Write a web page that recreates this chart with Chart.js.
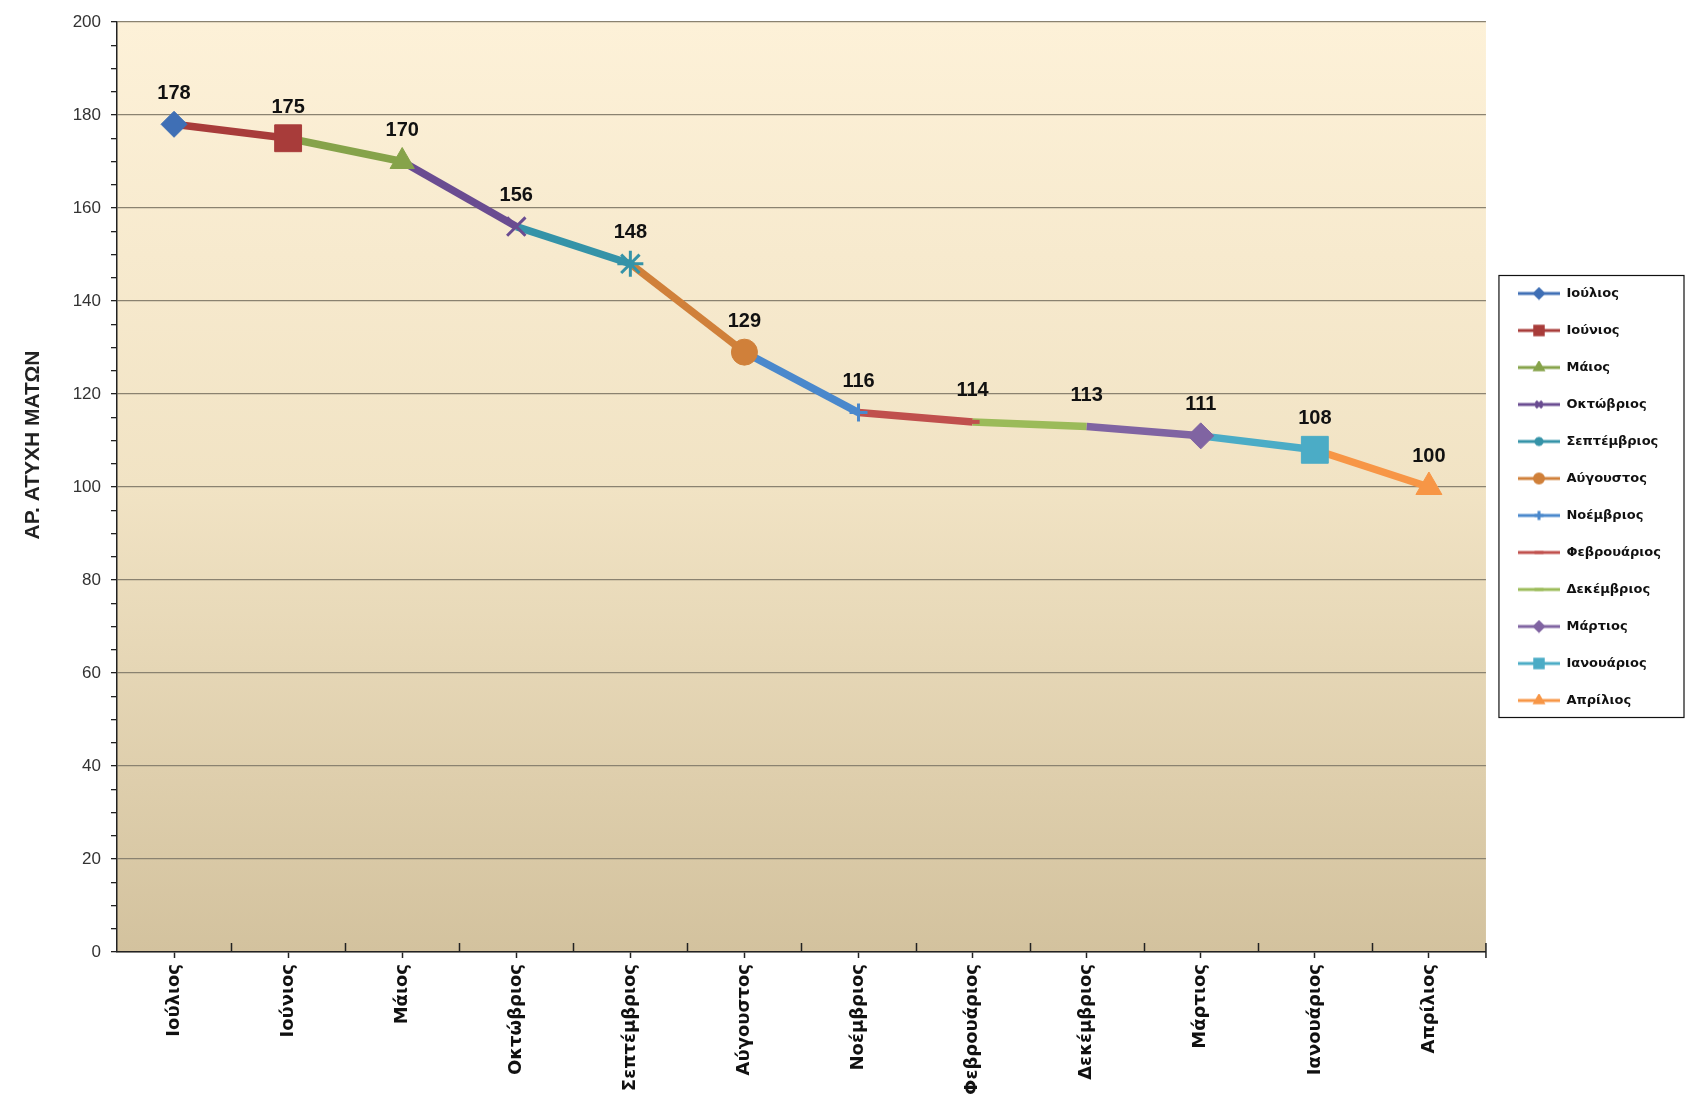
<!DOCTYPE html>
<html>
<head>
<meta charset="utf-8">
<script src="https://cdn.jsdelivr.net/npm/chart.js@4.4.1/dist/chart.umd.min.js"></script>
<style>
  html, body { margin: 0; padding: 0; background: #fff; }
  #wrap { width: 1686px; height: 1105px; }
</style>
</head>
<body>
<div id="wrap"><canvas id="accChart" width="1686" height="1105"></canvas></div>
<script>
// data
const months = ['Ιούλιος', 'Ιούνιος', 'Μάιος', 'Οκτώβριος', 'Σεπτέμβριος', 'Αύγουστος',
    'Νοέμβριος', 'Φεβρουάριος', 'Δεκέμβριος', 'Μάρτιος', 'Ιανουάριος', 'Απρίλιος'];
const accidents = [178, 175, 170, 156, 148, 129, 116, 114, 113, 111, 108, 100];
const yMin = 0;
const yMax = 200;
const yMajorStep = 20;
const yMinorStep = 5;

// one colour / marker per month (Excel series look)
const seriesColors = ['#3f6fb5', '#a83c3a', '#86a34a', '#6a4c91', '#3593a8', '#d0803a',
    '#4a88cc', '#c0504d', '#9bbb59', '#8064a2', '#4bacc6', '#f79646'];
const markerStyles = ['rectRot', 'rect', 'triangle', 'crossRot', 'star', 'circle',
    'cross', 'line', 'line', 'rectRot', 'rect', 'triangle'];
const markerSizes = [13, 19, 14, 13, 13, 13, 9, 7, 0, 13, 19, 15];
const markerBorders = [1, 1, 1, 3, 3, 1, 3, 4, 4, 1, 1, 1];

const labelFont = '"DejaVu Sans", Verdana, sans-serif';
const numFont = '"Liberation Sans", Arial, sans-serif';
const textColor = '#111';

// little line+marker picture for the legend entries
function legendSwatch(i) {
    const c = document.createElement('canvas');
    c.width = 50;
    c.height = 14;
    const g = c.getContext('2d');
    g.strokeStyle = seriesColors[i];
    g.lineWidth = 3;
    g.beginPath();
    g.moveTo(8, 7);
    g.lineTo(50, 7);
    g.stroke();
    g.fillStyle = seriesColors[i];
    g.strokeStyle = seriesColors[i];
    Chart.helpers.drawPoint(g, {
        pointStyle: markerStyles[i],
        radius: markerStyles[i] === 'rect' ? 6 : 4.5,
        borderWidth: markerBorders[i] > 1 ? 2 : 1,
        rotation: 0
    }, 29, 7);
    return c;
}

const plotBackground = {
    id: 'plotBackground',
    beforeDraw(chart) {
        const {ctx, chartArea: a} = chart;
        ctx.save();
        ctx.fillStyle = '#ffffff';
        ctx.fillRect(0, 0, chart.width, chart.height);
        const grad = ctx.createLinearGradient(0, a.top, 0, a.bottom);
        grad.addColorStop(0, '#fdf1d8');
        grad.addColorStop(0.5, '#f1e3c4');
        grad.addColorStop(1, '#d3c29e');
        ctx.fillStyle = grad;
        ctx.fillRect(a.left, a.top, a.right - a.left, a.bottom - a.top);
        ctx.restore();
    }
};

// tick marks between categories, pointing into the plot
const innerTicks = {
    id: 'innerTicks',
    afterDraw(chart) {
        const {ctx, chartArea: a} = chart;
        const xs = chart.scales.x;
        ctx.save();
        ctx.strokeStyle = '#222';
        ctx.lineWidth = 1.5;
        ctx.beginPath();
        for (let i = 1; i < months.length; i++) {
            const px = Math.round((xs.getPixelForValue(i - 1) + xs.getPixelForValue(i)) / 2) + 0.5;
            ctx.moveTo(px, a.bottom);
            ctx.lineTo(px, a.bottom - 9);
        }
        ctx.moveTo(a.right, a.bottom - 9);
        ctx.lineTo(a.right, a.bottom + 6);
        ctx.stroke();
        ctx.restore();
    }
};

const valueLabels = {
    id: 'valueLabels',
    afterDatasetsDraw(chart) {
        const {ctx} = chart;
        const meta = chart.getDatasetMeta(0);
        ctx.save();
        ctx.font = 'bold 20px ' + numFont;
        ctx.fillStyle = textColor;
        ctx.textAlign = 'center';
        ctx.textBaseline = 'middle';
        meta.data.forEach((pt, i) => {
            ctx.fillText(String(accidents[i]), pt.x, pt.y - 31);
        });
        ctx.restore();
    }
};

const legendFrame = {
    id: 'legendFrame',
    afterDraw(chart) {
        const boxes = chart.legend && chart.legend.legendHitBoxes;
        if (!boxes || !boxes.length) return;
        const {ctx} = chart;
        const first = boxes[0];
        const last = boxes[boxes.length - 1];
        const left = first.left - 11;
        const top = first.top + 6.5 - 18;
        const bottom = last.top + 6.5 + 17;
        const right = chart.width - 2;
        ctx.save();
        ctx.strokeStyle = textColor;
        ctx.lineWidth = 1.2;
        ctx.strokeRect(left, top, right - left, bottom - top);
        ctx.restore();
    }
};

const ctx = document.getElementById('accChart').getContext('2d');
new Chart(ctx, {
    type: 'line',
    data: {
        labels: months,
        datasets: [{
            label: 'ΑΡ. ΑΤΥΧΗ ΜΑΤΩΝ',
            data: accidents,
            borderWidth: 7.5,
            borderColor: seriesColors[0],
            segment: {
                borderColor: c => seriesColors[c.p1DataIndex]
            },
            tension: 0,
            fill: false,
            pointStyle: markerStyles,
            pointRadius: markerSizes,
            pointHoverRadius: markerSizes,
            pointBackgroundColor: seriesColors,
            pointBorderColor: seriesColors,
            pointBorderWidth: markerBorders
        }]
    },
    options: {
        responsive: false,
        animation: false,
        devicePixelRatio: 1,
        layout: {
            padding: {top: 22, right: 15, bottom: 0, left: 0}
        },
        scales: {
            x: {
                type: 'category',
                offset: true,
                grid: {
                    offset: false,
                    drawOnChartArea: false,
                    tickLength: 6,
                    tickColor: '#222',
                    tickWidth: 1.5
                },
                border: {color: '#222', width: 1.5},
                ticks: {
                    minRotation: 90,
                    maxRotation: 90,
                    autoSkip: false,
                    padding: 6,
                    color: textColor,
                    font: {family: labelFont, size: 18, weight: 'bold'}
                },
                afterFit(scale) {
                    scale.height = 153;
                }
            },
            y: {
                min: yMin,
                max: yMax,
                grid: {
                    color: c => (c.tick && c.tick.value % yMajorStep === 0) ? '#8a8270' : 'rgba(0,0,0,0)',
                    lineWidth: 1.3,
                    tickLength: 6,
                    tickColor: '#222',
                    tickWidth: 1.3
                },
                border: {color: '#222', width: 1.5},
                ticks: {
                    stepSize: yMinorStep,
                    autoSkip: false,
                    padding: 10,
                    color: '#333',
                    font: {family: numFont, size: 17},
                    callback: v => (v % yMajorStep === 0 ? v : '')
                },
                title: {
                    display: true,
                    text: '\u2003\u2003\u2003\u2003ΑΡ. ΑΤΥΧΗ ΜΑΤΩΝ',
                    color: '#222',
                    font: {family: numFont, size: 21, weight: 'bold'},
                    padding: {top: 21, bottom: 0}
                },
                afterFit(scale) {
                    scale.width = 117;
                }
            }
        },
        plugins: {
            legend: {
                display: true,
                position: 'right',
                fullSize: false,
                align: 'center',
                // empty title only used to push the entries down a little
                title: {
                    display: true,
                    text: ' ',
                    color: textColor,
                    font: {size: 10},
                    padding: {top: 8, bottom: 0}
                },
                labels: {
                    usePointStyle: true,
                    pointStyleWidth: 50,
                    padding: 24,
                    color: textColor,
                    font: {family: labelFont, size: 13, weight: 'bold'},
                    generateLabels: () => months.map((m, i) => ({
                        text: m,
                        fontColor: textColor,
                        pointStyle: legendSwatch(i),
                        fillStyle: seriesColors[i],
                        strokeStyle: seriesColors[i],
                        lineWidth: 0,
                        hidden: false,
                        datasetIndex: 0,
                        index: i
                    }))
                },
                onClick: () => {}
            },
            tooltip: {enabled: false}
        }
    },
    plugins: [plotBackground, innerTicks, valueLabels, legendFrame]
});
</script>
</body>
</html>
